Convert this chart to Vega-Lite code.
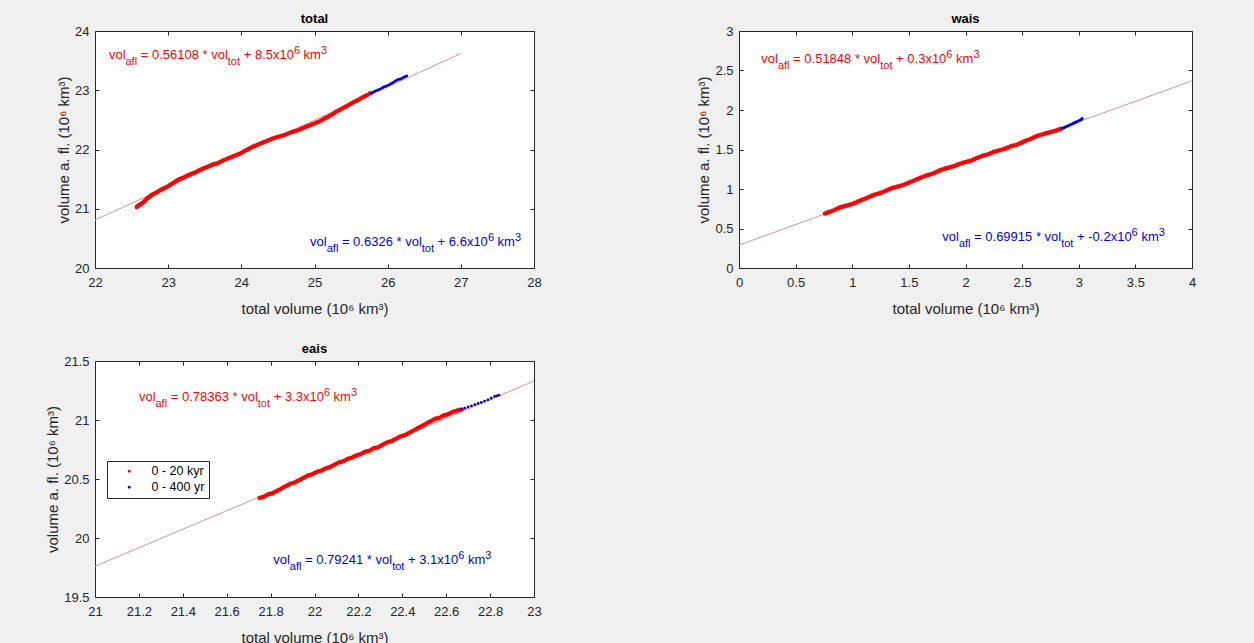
{
"$schema": "https://vega.github.io/schema/vega-lite/v6.json",
"background": "#f0f0f0",
"padding": {"left": 44, "top": 12, "right": 64, "bottom": 10},
"config": {
 "font": "Liberation Sans",
 "view": {"stroke": "#262626", "fill": "white", "strokeWidth": 1},
 "axis": {"grid": false, "domain": false, "tickSize": -4, "tickColor": "#262626", "labelColor": "#262626", "labelFontSize": 13, "labelFont": "Liberation Sans", "titleFont": "Liberation Sans", "titleFontSize": 15, "titleFontWeight": "normal", "titleColor": "#262626", "labelFlush": false, "labelOverlap": false, "format": "~g"},
 "axisX": {"labelPadding": 12, "titlePadding": 12},
 "axisY": {"labelPadding": 10, "titlePadding": 3.5},
 "title": {"fontSize": 13, "fontWeight": "bold", "font": "Liberation Sans", "color": "#000000", "offset": -1},
 "text": {"font": "Liberation Sans"}
},
"datasets": {
 "fit": [
  {"p": "total", "x": 22, "y": 20.81}, {"p": "total", "x": 27, "y": 23.62},
  {"p": "wais", "x": 0, "y": 0.29}, {"p": "wais", "x": 4, "y": 2.37},
  {"p": "eais", "x": 21, "y": 19.76}, {"p": "eais", "x": 23, "y": 21.33}
 ],
 "eq": [
  {"p": "total", "s": "0 - 20 kyr", "x": 22.19, "y": 23.52, "t3": "= 0.56108 * vol", "t5": "+ 8.5x10"},
  {"p": "total", "s": "0 - 400 yr", "x": 24.94, "y": 20.37, "t3": "= 0.6326 * vol", "t5": "+ 6.6x10"},
  {"p": "wais", "s": "0 - 20 kyr", "x": 0.197, "y": 2.597, "t3": "= 0.51848 * vol", "t5": "+ 0.3x10"},
  {"p": "wais", "s": "0 - 400 yr", "x": 1.795, "y": 0.338, "t3": "= 0.69915 * vol", "t5": "+ -0.2x10"},
  {"p": "eais", "s": "0 - 20 kyr", "x": 21.2, "y": 21.157, "t3": "= 0.78363 * vol", "t5": "+ 3.3x10"},
  {"p": "eais", "s": "0 - 400 yr", "x": 21.812, "y": 19.778, "t3": "= 0.79241 * vol", "t5": "+ 3.1x10"}
 ],
 "pts": [
  {"p":"total","s":"0 - 20 kyr","x":22.57,"y":21.03},{"p":"total","s":"0 - 20 kyr","x":22.585,"y":21.045},{"p":"total","s":"0 - 20 kyr","x":22.60,"y":21.06},{"p":"total","s":"0 - 20 kyr","x":22.62,"y":21.075},{"p":"total","s":"0 - 20 kyr","x":22.64,"y":21.09},{"p":"total","s":"0 - 20 kyr","x":22.66,"y":21.11},{"p":"total","s":"0 - 20 kyr","x":22.68,"y":21.13},{"p":"total","s":"0 - 20 kyr","x":22.70,"y":21.155},{"p":"total","s":"0 - 20 kyr","x":22.72,"y":21.18},{"p":"total","s":"0 - 20 kyr","x":22.74,"y":21.20},
  {"p":"total","s":"0 - 20 kyr","x":22.76,"y":21.22},{"p":"total","s":"0 - 20 kyr","x":22.78,"y":21.235},{"p":"total","s":"0 - 20 kyr","x":22.80,"y":21.25},{"p":"total","s":"0 - 20 kyr","x":22.825,"y":21.265},{"p":"total","s":"0 - 20 kyr","x":22.85,"y":21.28},{"p":"total","s":"0 - 20 kyr","x":22.875,"y":21.30},{"p":"total","s":"0 - 20 kyr","x":22.90,"y":21.32},{"p":"total","s":"0 - 20 kyr","x":22.925,"y":21.335},{"p":"total","s":"0 - 20 kyr","x":22.95,"y":21.35},{"p":"total","s":"0 - 20 kyr","x":22.975,"y":21.365},
  {"p":"total","s":"0 - 20 kyr","x":23.00,"y":21.38},{"p":"total","s":"0 - 20 kyr","x":23.025,"y":21.40},{"p":"total","s":"0 - 20 kyr","x":23.05,"y":21.42},{"p":"total","s":"0 - 20 kyr","x":23.075,"y":21.44},{"p":"total","s":"0 - 20 kyr","x":23.10,"y":21.46},{"p":"total","s":"0 - 20 kyr","x":23.125,"y":21.48},{"p":"total","s":"0 - 20 kyr","x":23.15,"y":21.50},{"p":"total","s":"0 - 20 kyr","x":23.175,"y":21.51},{"p":"total","s":"0 - 20 kyr","x":23.20,"y":21.52},{"p":"total","s":"0 - 20 kyr","x":23.23,"y":21.54},
  {"p":"total","s":"0 - 20 kyr","x":23.26,"y":21.56},{"p":"total","s":"0 - 20 kyr","x":23.29,"y":21.575},{"p":"total","s":"0 - 20 kyr","x":23.32,"y":21.59},{"p":"total","s":"0 - 20 kyr","x":23.35,"y":21.605},{"p":"total","s":"0 - 20 kyr","x":23.38,"y":21.62},{"p":"total","s":"0 - 20 kyr","x":23.41,"y":21.64},{"p":"total","s":"0 - 20 kyr","x":23.44,"y":21.66},{"p":"total","s":"0 - 20 kyr","x":23.47,"y":21.675},{"p":"total","s":"0 - 20 kyr","x":23.50,"y":21.69},{"p":"total","s":"0 - 20 kyr","x":23.53,"y":21.705},
  {"p":"total","s":"0 - 20 kyr","x":23.56,"y":21.72},{"p":"total","s":"0 - 20 kyr","x":23.59,"y":21.735},{"p":"total","s":"0 - 20 kyr","x":23.62,"y":21.75},{"p":"total","s":"0 - 20 kyr","x":23.65,"y":21.76},{"p":"total","s":"0 - 20 kyr","x":23.68,"y":21.77},{"p":"total","s":"0 - 20 kyr","x":23.71,"y":21.79},{"p":"total","s":"0 - 20 kyr","x":23.74,"y":21.81},{"p":"total","s":"0 - 20 kyr","x":23.77,"y":21.825},{"p":"total","s":"0 - 20 kyr","x":23.80,"y":21.84},{"p":"total","s":"0 - 20 kyr","x":23.83,"y":21.855},
  {"p":"total","s":"0 - 20 kyr","x":23.86,"y":21.87},{"p":"total","s":"0 - 20 kyr","x":23.89,"y":21.885},{"p":"total","s":"0 - 20 kyr","x":23.92,"y":21.90},{"p":"total","s":"0 - 20 kyr","x":23.95,"y":21.915},{"p":"total","s":"0 - 20 kyr","x":23.98,"y":21.93},{"p":"total","s":"0 - 20 kyr","x":24.01,"y":21.95},{"p":"total","s":"0 - 20 kyr","x":24.04,"y":21.97},{"p":"total","s":"0 - 20 kyr","x":24.07,"y":21.99},{"p":"total","s":"0 - 20 kyr","x":24.10,"y":22.01},{"p":"total","s":"0 - 20 kyr","x":24.13,"y":22.03},
  {"p":"total","s":"0 - 20 kyr","x":24.16,"y":22.05},{"p":"total","s":"0 - 20 kyr","x":24.19,"y":22.065},{"p":"total","s":"0 - 20 kyr","x":24.22,"y":22.08},{"p":"total","s":"0 - 20 kyr","x":24.25,"y":22.095},{"p":"total","s":"0 - 20 kyr","x":24.28,"y":22.11},{"p":"total","s":"0 - 20 kyr","x":24.31,"y":22.125},{"p":"total","s":"0 - 20 kyr","x":24.34,"y":22.14},{"p":"total","s":"0 - 20 kyr","x":24.37,"y":22.155},{"p":"total","s":"0 - 20 kyr","x":24.40,"y":22.17},{"p":"total","s":"0 - 20 kyr","x":24.43,"y":22.185},
  {"p":"total","s":"0 - 20 kyr","x":24.46,"y":22.20},{"p":"total","s":"0 - 20 kyr","x":24.49,"y":22.21},{"p":"total","s":"0 - 20 kyr","x":24.52,"y":22.22},{"p":"total","s":"0 - 20 kyr","x":24.55,"y":22.23},{"p":"total","s":"0 - 20 kyr","x":24.58,"y":22.24},{"p":"total","s":"0 - 20 kyr","x":24.61,"y":22.255},{"p":"total","s":"0 - 20 kyr","x":24.64,"y":22.27},{"p":"total","s":"0 - 20 kyr","x":24.67,"y":22.285},{"p":"total","s":"0 - 20 kyr","x":24.70,"y":22.30},{"p":"total","s":"0 - 20 kyr","x":24.73,"y":22.31},
  {"p":"total","s":"0 - 20 kyr","x":24.76,"y":22.32},{"p":"total","s":"0 - 20 kyr","x":24.79,"y":22.335},{"p":"total","s":"0 - 20 kyr","x":24.82,"y":22.35},{"p":"total","s":"0 - 20 kyr","x":24.85,"y":22.365},{"p":"total","s":"0 - 20 kyr","x":24.88,"y":22.38},{"p":"total","s":"0 - 20 kyr","x":24.91,"y":22.395},{"p":"total","s":"0 - 20 kyr","x":24.94,"y":22.41},{"p":"total","s":"0 - 20 kyr","x":24.97,"y":22.425},{"p":"total","s":"0 - 20 kyr","x":25.00,"y":22.44},{"p":"total","s":"0 - 20 kyr","x":25.03,"y":22.455},
  {"p":"total","s":"0 - 20 kyr","x":25.06,"y":22.47},{"p":"total","s":"0 - 20 kyr","x":25.09,"y":22.49},{"p":"total","s":"0 - 20 kyr","x":25.12,"y":22.51},{"p":"total","s":"0 - 20 kyr","x":25.15,"y":22.53},{"p":"total","s":"0 - 20 kyr","x":25.18,"y":22.55},{"p":"total","s":"0 - 20 kyr","x":25.21,"y":22.57},{"p":"total","s":"0 - 20 kyr","x":25.24,"y":22.59},{"p":"total","s":"0 - 20 kyr","x":25.27,"y":22.615},{"p":"total","s":"0 - 20 kyr","x":25.30,"y":22.64},{"p":"total","s":"0 - 20 kyr","x":25.33,"y":22.66},
  {"p":"total","s":"0 - 20 kyr","x":25.36,"y":22.68},{"p":"total","s":"0 - 20 kyr","x":25.39,"y":22.70},{"p":"total","s":"0 - 20 kyr","x":25.42,"y":22.72},{"p":"total","s":"0 - 20 kyr","x":25.45,"y":22.74},{"p":"total","s":"0 - 20 kyr","x":25.48,"y":22.76},{"p":"total","s":"0 - 20 kyr","x":25.51,"y":22.78},{"p":"total","s":"0 - 20 kyr","x":25.54,"y":22.80},{"p":"total","s":"0 - 20 kyr","x":25.57,"y":22.82},{"p":"total","s":"0 - 20 kyr","x":25.60,"y":22.84},{"p":"total","s":"0 - 20 kyr","x":25.63,"y":22.86},
  {"p":"total","s":"0 - 20 kyr","x":25.66,"y":22.88},{"p":"total","s":"0 - 20 kyr","x":25.69,"y":22.90},{"p":"total","s":"0 - 20 kyr","x":25.72,"y":22.92},{"p":"total","s":"0 - 20 kyr","x":25.76,"y":22.95},
  {"p":"total","s":"0 - 400 yr","x":25.78,"y":22.95},{"p":"total","s":"0 - 400 yr","x":25.80,"y":22.965},{"p":"total","s":"0 - 400 yr","x":25.82,"y":22.98},{"p":"total","s":"0 - 400 yr","x":25.84,"y":22.99},{"p":"total","s":"0 - 400 yr","x":25.86,"y":23.00},{"p":"total","s":"0 - 400 yr","x":25.88,"y":23.01},{"p":"total","s":"0 - 400 yr","x":25.90,"y":23.02},{"p":"total","s":"0 - 400 yr","x":25.92,"y":23.035},{"p":"total","s":"0 - 400 yr","x":25.94,"y":23.05},{"p":"total","s":"0 - 400 yr","x":25.96,"y":23.06},
  {"p":"total","s":"0 - 400 yr","x":25.98,"y":23.07},{"p":"total","s":"0 - 400 yr","x":26.00,"y":23.08},{"p":"total","s":"0 - 400 yr","x":26.02,"y":23.09},{"p":"total","s":"0 - 400 yr","x":26.04,"y":23.105},{"p":"total","s":"0 - 400 yr","x":26.06,"y":23.12},{"p":"total","s":"0 - 400 yr","x":26.08,"y":23.135},{"p":"total","s":"0 - 400 yr","x":26.10,"y":23.15},{"p":"total","s":"0 - 400 yr","x":26.12,"y":23.165},{"p":"total","s":"0 - 400 yr","x":26.14,"y":23.18},{"p":"total","s":"0 - 400 yr","x":26.16,"y":23.185},
  {"p":"total","s":"0 - 400 yr","x":26.18,"y":23.19},{"p":"total","s":"0 - 400 yr","x":26.20,"y":23.205},{"p":"total","s":"0 - 400 yr","x":26.22,"y":23.22},{"p":"total","s":"0 - 400 yr","x":26.24,"y":23.23},{"p":"total","s":"0 - 400 yr","x":26.26,"y":23.24},
  {"p":"wais","s":"0 - 20 kyr","x":0.76,"y":0.69},{"p":"wais","s":"0 - 20 kyr","x":0.78,"y":0.70},{"p":"wais","s":"0 - 20 kyr","x":0.80,"y":0.71},{"p":"wais","s":"0 - 20 kyr","x":0.825,"y":0.725},{"p":"wais","s":"0 - 20 kyr","x":0.85,"y":0.74},{"p":"wais","s":"0 - 20 kyr","x":0.875,"y":0.755},{"p":"wais","s":"0 - 20 kyr","x":0.90,"y":0.77},{"p":"wais","s":"0 - 20 kyr","x":0.925,"y":0.78},{"p":"wais","s":"0 - 20 kyr","x":0.95,"y":0.79},{"p":"wais","s":"0 - 20 kyr","x":0.975,"y":0.80},
  {"p":"wais","s":"0 - 20 kyr","x":1.00,"y":0.81},{"p":"wais","s":"0 - 20 kyr","x":1.025,"y":0.825},{"p":"wais","s":"0 - 20 kyr","x":1.05,"y":0.84},{"p":"wais","s":"0 - 20 kyr","x":1.075,"y":0.855},{"p":"wais","s":"0 - 20 kyr","x":1.10,"y":0.87},{"p":"wais","s":"0 - 20 kyr","x":1.125,"y":0.885},{"p":"wais","s":"0 - 20 kyr","x":1.15,"y":0.90},{"p":"wais","s":"0 - 20 kyr","x":1.175,"y":0.915},{"p":"wais","s":"0 - 20 kyr","x":1.20,"y":0.93},{"p":"wais","s":"0 - 20 kyr","x":1.225,"y":0.94},
  {"p":"wais","s":"0 - 20 kyr","x":1.25,"y":0.95},{"p":"wais","s":"0 - 20 kyr","x":1.275,"y":0.965},{"p":"wais","s":"0 - 20 kyr","x":1.30,"y":0.98},{"p":"wais","s":"0 - 20 kyr","x":1.325,"y":0.995},{"p":"wais","s":"0 - 20 kyr","x":1.35,"y":1.01},{"p":"wais","s":"0 - 20 kyr","x":1.375,"y":1.02},{"p":"wais","s":"0 - 20 kyr","x":1.40,"y":1.03},{"p":"wais","s":"0 - 20 kyr","x":1.425,"y":1.04},{"p":"wais","s":"0 - 20 kyr","x":1.45,"y":1.05},{"p":"wais","s":"0 - 20 kyr","x":1.475,"y":1.065},
  {"p":"wais","s":"0 - 20 kyr","x":1.50,"y":1.08},{"p":"wais","s":"0 - 20 kyr","x":1.525,"y":1.095},{"p":"wais","s":"0 - 20 kyr","x":1.55,"y":1.11},{"p":"wais","s":"0 - 20 kyr","x":1.575,"y":1.125},{"p":"wais","s":"0 - 20 kyr","x":1.60,"y":1.14},{"p":"wais","s":"0 - 20 kyr","x":1.625,"y":1.155},{"p":"wais","s":"0 - 20 kyr","x":1.65,"y":1.17},{"p":"wais","s":"0 - 20 kyr","x":1.675,"y":1.18},{"p":"wais","s":"0 - 20 kyr","x":1.70,"y":1.19},{"p":"wais","s":"0 - 20 kyr","x":1.725,"y":1.205},
  {"p":"wais","s":"0 - 20 kyr","x":1.75,"y":1.22},{"p":"wais","s":"0 - 20 kyr","x":1.775,"y":1.235},{"p":"wais","s":"0 - 20 kyr","x":1.80,"y":1.25},{"p":"wais","s":"0 - 20 kyr","x":1.825,"y":1.26},{"p":"wais","s":"0 - 20 kyr","x":1.85,"y":1.27},{"p":"wais","s":"0 - 20 kyr","x":1.875,"y":1.28},{"p":"wais","s":"0 - 20 kyr","x":1.90,"y":1.29},{"p":"wais","s":"0 - 20 kyr","x":1.925,"y":1.305},{"p":"wais","s":"0 - 20 kyr","x":1.95,"y":1.32},{"p":"wais","s":"0 - 20 kyr","x":1.975,"y":1.33},
  {"p":"wais","s":"0 - 20 kyr","x":2.00,"y":1.34},{"p":"wais","s":"0 - 20 kyr","x":2.025,"y":1.35},{"p":"wais","s":"0 - 20 kyr","x":2.05,"y":1.36},{"p":"wais","s":"0 - 20 kyr","x":2.075,"y":1.375},{"p":"wais","s":"0 - 20 kyr","x":2.10,"y":1.39},{"p":"wais","s":"0 - 20 kyr","x":2.125,"y":1.405},{"p":"wais","s":"0 - 20 kyr","x":2.15,"y":1.42},{"p":"wais","s":"0 - 20 kyr","x":2.175,"y":1.43},{"p":"wais","s":"0 - 20 kyr","x":2.20,"y":1.44},{"p":"wais","s":"0 - 20 kyr","x":2.225,"y":1.455},
  {"p":"wais","s":"0 - 20 kyr","x":2.25,"y":1.47},{"p":"wais","s":"0 - 20 kyr","x":2.275,"y":1.48},{"p":"wais","s":"0 - 20 kyr","x":2.30,"y":1.49},{"p":"wais","s":"0 - 20 kyr","x":2.325,"y":1.50},{"p":"wais","s":"0 - 20 kyr","x":2.35,"y":1.51},{"p":"wais","s":"0 - 20 kyr","x":2.375,"y":1.525},{"p":"wais","s":"0 - 20 kyr","x":2.40,"y":1.54},{"p":"wais","s":"0 - 20 kyr","x":2.425,"y":1.55},{"p":"wais","s":"0 - 20 kyr","x":2.45,"y":1.56},{"p":"wais","s":"0 - 20 kyr","x":2.475,"y":1.575},
  {"p":"wais","s":"0 - 20 kyr","x":2.50,"y":1.59},{"p":"wais","s":"0 - 20 kyr","x":2.525,"y":1.605},{"p":"wais","s":"0 - 20 kyr","x":2.55,"y":1.62},{"p":"wais","s":"0 - 20 kyr","x":2.575,"y":1.635},{"p":"wais","s":"0 - 20 kyr","x":2.60,"y":1.65},{"p":"wais","s":"0 - 20 kyr","x":2.625,"y":1.665},{"p":"wais","s":"0 - 20 kyr","x":2.65,"y":1.68},{"p":"wais","s":"0 - 20 kyr","x":2.675,"y":1.69},{"p":"wais","s":"0 - 20 kyr","x":2.70,"y":1.70},{"p":"wais","s":"0 - 20 kyr","x":2.725,"y":1.71},
  {"p":"wais","s":"0 - 20 kyr","x":2.75,"y":1.72},{"p":"wais","s":"0 - 20 kyr","x":2.775,"y":1.73},{"p":"wais","s":"0 - 20 kyr","x":2.80,"y":1.74},{"p":"wais","s":"0 - 20 kyr","x":2.82,"y":1.75},{"p":"wais","s":"0 - 20 kyr","x":2.84,"y":1.76},
  {"p":"wais","s":"0 - 400 yr","x":2.86,"y":1.77},{"p":"wais","s":"0 - 400 yr","x":2.875,"y":1.78},{"p":"wais","s":"0 - 400 yr","x":2.89,"y":1.79},{"p":"wais","s":"0 - 400 yr","x":2.905,"y":1.80},{"p":"wais","s":"0 - 400 yr","x":2.92,"y":1.81},{"p":"wais","s":"0 - 400 yr","x":2.935,"y":1.82},{"p":"wais","s":"0 - 400 yr","x":2.95,"y":1.83},{"p":"wais","s":"0 - 400 yr","x":2.965,"y":1.84},{"p":"wais","s":"0 - 400 yr","x":2.98,"y":1.85},{"p":"wais","s":"0 - 400 yr","x":2.995,"y":1.86},
  {"p":"wais","s":"0 - 400 yr","x":3.01,"y":1.87},{"p":"wais","s":"0 - 400 yr","x":3.02,"y":1.88},{"p":"wais","s":"0 - 400 yr","x":3.03,"y":1.89},
  {"p":"eais","s":"0 - 20 kyr","x":21.75,"y":20.34},{"p":"eais","s":"0 - 20 kyr","x":21.76,"y":20.345},{"p":"eais","s":"0 - 20 kyr","x":21.77,"y":20.35},{"p":"eais","s":"0 - 20 kyr","x":21.78,"y":20.36},{"p":"eais","s":"0 - 20 kyr","x":21.79,"y":20.37},{"p":"eais","s":"0 - 20 kyr","x":21.80,"y":20.375},{"p":"eais","s":"0 - 20 kyr","x":21.81,"y":20.38},{"p":"eais","s":"0 - 20 kyr","x":21.82,"y":20.39},{"p":"eais","s":"0 - 20 kyr","x":21.83,"y":20.40},{"p":"eais","s":"0 - 20 kyr","x":21.84,"y":20.41},
  {"p":"eais","s":"0 - 20 kyr","x":21.85,"y":20.42},{"p":"eais","s":"0 - 20 kyr","x":21.86,"y":20.43},{"p":"eais","s":"0 - 20 kyr","x":21.87,"y":20.44},{"p":"eais","s":"0 - 20 kyr","x":21.88,"y":20.45},{"p":"eais","s":"0 - 20 kyr","x":21.89,"y":20.46},{"p":"eais","s":"0 - 20 kyr","x":21.90,"y":20.465},{"p":"eais","s":"0 - 20 kyr","x":21.91,"y":20.47},{"p":"eais","s":"0 - 20 kyr","x":21.92,"y":20.48},{"p":"eais","s":"0 - 20 kyr","x":21.93,"y":20.49},{"p":"eais","s":"0 - 20 kyr","x":21.94,"y":20.50},
  {"p":"eais","s":"0 - 20 kyr","x":21.95,"y":20.51},{"p":"eais","s":"0 - 20 kyr","x":21.96,"y":20.52},{"p":"eais","s":"0 - 20 kyr","x":21.97,"y":20.53},{"p":"eais","s":"0 - 20 kyr","x":21.98,"y":20.535},{"p":"eais","s":"0 - 20 kyr","x":21.99,"y":20.54},{"p":"eais","s":"0 - 20 kyr","x":22.00,"y":20.55},{"p":"eais","s":"0 - 20 kyr","x":22.01,"y":20.56},{"p":"eais","s":"0 - 20 kyr","x":22.02,"y":20.565},{"p":"eais","s":"0 - 20 kyr","x":22.03,"y":20.57},{"p":"eais","s":"0 - 20 kyr","x":22.04,"y":20.58},
  {"p":"eais","s":"0 - 20 kyr","x":22.05,"y":20.59},{"p":"eais","s":"0 - 20 kyr","x":22.06,"y":20.595},{"p":"eais","s":"0 - 20 kyr","x":22.07,"y":20.60},{"p":"eais","s":"0 - 20 kyr","x":22.08,"y":20.61},{"p":"eais","s":"0 - 20 kyr","x":22.09,"y":20.62},{"p":"eais","s":"0 - 20 kyr","x":22.10,"y":20.63},{"p":"eais","s":"0 - 20 kyr","x":22.11,"y":20.64},{"p":"eais","s":"0 - 20 kyr","x":22.12,"y":20.645},{"p":"eais","s":"0 - 20 kyr","x":22.13,"y":20.65},{"p":"eais","s":"0 - 20 kyr","x":22.14,"y":20.66},
  {"p":"eais","s":"0 - 20 kyr","x":22.15,"y":20.67},{"p":"eais","s":"0 - 20 kyr","x":22.16,"y":20.675},{"p":"eais","s":"0 - 20 kyr","x":22.17,"y":20.68},{"p":"eais","s":"0 - 20 kyr","x":22.18,"y":20.69},{"p":"eais","s":"0 - 20 kyr","x":22.19,"y":20.70},{"p":"eais","s":"0 - 20 kyr","x":22.20,"y":20.705},{"p":"eais","s":"0 - 20 kyr","x":22.21,"y":20.71},{"p":"eais","s":"0 - 20 kyr","x":22.22,"y":20.72},{"p":"eais","s":"0 - 20 kyr","x":22.23,"y":20.73},{"p":"eais","s":"0 - 20 kyr","x":22.24,"y":20.735},
  {"p":"eais","s":"0 - 20 kyr","x":22.25,"y":20.74},{"p":"eais","s":"0 - 20 kyr","x":22.26,"y":20.75},{"p":"eais","s":"0 - 20 kyr","x":22.27,"y":20.76},{"p":"eais","s":"0 - 20 kyr","x":22.28,"y":20.765},{"p":"eais","s":"0 - 20 kyr","x":22.29,"y":20.77},{"p":"eais","s":"0 - 20 kyr","x":22.30,"y":20.78},{"p":"eais","s":"0 - 20 kyr","x":22.31,"y":20.79},{"p":"eais","s":"0 - 20 kyr","x":22.32,"y":20.80},{"p":"eais","s":"0 - 20 kyr","x":22.33,"y":20.81},{"p":"eais","s":"0 - 20 kyr","x":22.34,"y":20.815},
  {"p":"eais","s":"0 - 20 kyr","x":22.35,"y":20.82},{"p":"eais","s":"0 - 20 kyr","x":22.36,"y":20.83},{"p":"eais","s":"0 - 20 kyr","x":22.37,"y":20.84},{"p":"eais","s":"0 - 20 kyr","x":22.38,"y":20.85},{"p":"eais","s":"0 - 20 kyr","x":22.39,"y":20.86},{"p":"eais","s":"0 - 20 kyr","x":22.40,"y":20.865},{"p":"eais","s":"0 - 20 kyr","x":22.41,"y":20.87},{"p":"eais","s":"0 - 20 kyr","x":22.42,"y":20.88},{"p":"eais","s":"0 - 20 kyr","x":22.43,"y":20.89},{"p":"eais","s":"0 - 20 kyr","x":22.44,"y":20.90},
  {"p":"eais","s":"0 - 20 kyr","x":22.45,"y":20.91},{"p":"eais","s":"0 - 20 kyr","x":22.46,"y":20.92},{"p":"eais","s":"0 - 20 kyr","x":22.47,"y":20.93},{"p":"eais","s":"0 - 20 kyr","x":22.48,"y":20.94},{"p":"eais","s":"0 - 20 kyr","x":22.49,"y":20.95},{"p":"eais","s":"0 - 20 kyr","x":22.50,"y":20.96},{"p":"eais","s":"0 - 20 kyr","x":22.51,"y":20.97},{"p":"eais","s":"0 - 20 kyr","x":22.52,"y":20.98},{"p":"eais","s":"0 - 20 kyr","x":22.53,"y":20.99},{"p":"eais","s":"0 - 20 kyr","x":22.54,"y":21.00},
  {"p":"eais","s":"0 - 20 kyr","x":22.55,"y":21.01},{"p":"eais","s":"0 - 20 kyr","x":22.56,"y":21.015},{"p":"eais","s":"0 - 20 kyr","x":22.57,"y":21.02},{"p":"eais","s":"0 - 20 kyr","x":22.58,"y":21.03},{"p":"eais","s":"0 - 20 kyr","x":22.59,"y":21.04},{"p":"eais","s":"0 - 20 kyr","x":22.60,"y":21.045},{"p":"eais","s":"0 - 20 kyr","x":22.61,"y":21.05},{"p":"eais","s":"0 - 20 kyr","x":22.62,"y":21.06},{"p":"eais","s":"0 - 20 kyr","x":22.63,"y":21.07},{"p":"eais","s":"0 - 20 kyr","x":22.64,"y":21.075},
  {"p":"eais","s":"0 - 20 kyr","x":22.65,"y":21.08},{"p":"eais","s":"0 - 20 kyr","x":22.66,"y":21.085},{"p":"eais","s":"0 - 20 kyr","x":22.67,"y":21.09},
  {"p":"eais","s":"0 - 400 yr","x":22.67,"y":21.09},{"p":"eais","s":"0 - 400 yr","x":22.685,"y":21.10},{"p":"eais","s":"0 - 400 yr","x":22.70,"y":21.11},{"p":"eais","s":"0 - 400 yr","x":22.715,"y":21.12},{"p":"eais","s":"0 - 400 yr","x":22.73,"y":21.13},{"p":"eais","s":"0 - 400 yr","x":22.745,"y":21.14},{"p":"eais","s":"0 - 400 yr","x":22.76,"y":21.15},{"p":"eais","s":"0 - 400 yr","x":22.775,"y":21.16},{"p":"eais","s":"0 - 400 yr","x":22.79,"y":21.17},{"p":"eais","s":"0 - 400 yr","x":22.805,"y":21.185},
  {"p":"eais","s":"0 - 400 yr","x":22.82,"y":21.20},{"p":"eais","s":"0 - 400 yr","x":22.83,"y":21.205},{"p":"eais","s":"0 - 400 yr","x":22.84,"y":21.21}
 ]
},
"columns": 2,
"bounds": "flush",
"spacing": {"row": 93, "column": 205},
"resolve": {"scale": {"color": "independent"}, "legend": {"color": "independent"}},
"concat": [
 {
  "title": "total", "width": 439, "height": 237,
  "layer": [
   {"data": {"name": "fit"}, "transform": [{"filter": "datum.p == 'total'"}],
    "mark": {"type": "line", "color": "#e38f8f", "strokeWidth": 1},
    "encoding": {
     "x": {"field": "x", "type": "quantitative", "scale": {"domain": [22, 28], "nice": false, "zero": false}, "axis": {"orient": "bottom", "values": [22, 23, 24, 25, 26, 27, 28], "title": "total volume (10⁶ km³)"}},
     "y": {"field": "y", "type": "quantitative", "scale": {"domain": [20, 24], "nice": false, "zero": false}, "axis": {"orient": "left", "values": [20, 21, 22, 23, 24], "title": "volume a. fl. (10⁶ km³)"}}}},
   {"data": {"name": "pts"}, "transform": [{"filter": "datum.p == 'total' && datum.s == '0 - 20 kyr'"}],
    "mark": {"type": "circle", "size": 20, "opacity": 1},
    "encoding": {
     "x": {"field": "x", "type": "quantitative", "scale": {"domain": [22, 28], "nice": false, "zero": false}, "axis": {"orient": "top", "values": [22, 23, 24, 25, 26, 27, 28], "labels": false, "title": null}},
     "y": {"field": "y", "type": "quantitative", "scale": {"domain": [20, 24], "nice": false, "zero": false}, "axis": {"orient": "right", "values": [20, 21, 22, 23, 24], "labels": false, "title": null}},
     "color": {"field": "s", "type": "nominal", "scale": {"domain": ["0 - 20 kyr", "0 - 400 yr"], "range": ["#ff0000", "#0000dd"]}, "legend": null}}},
   {"data": {"name": "pts"}, "transform": [{"filter": "datum.p == 'total' && datum.s == '0 - 400 yr'"}],
    "mark": {"type": "circle", "size": 8, "opacity": 1},
    "encoding": {
     "x": {"field": "x", "type": "quantitative", "scale": {"domain": [22, 28], "nice": false, "zero": false}, "axis": null},
     "y": {"field": "y", "type": "quantitative", "scale": {"domain": [20, 24], "nice": false, "zero": false}, "axis": null},
     "color": {"field": "s", "type": "nominal", "scale": {"domain": ["0 - 20 kyr", "0 - 400 yr"], "range": ["#ff0000", "#0000dd"]}, "legend": null}}},
   {"data": {"name": "eq"}, "transform": [{"filter": "datum.p == 'total'"}],
    "encoding": {
     "x": {"field": "x", "type": "quantitative", "scale": {"domain": [22, 28], "nice": false, "zero": false}, "axis": null},
     "y": {"field": "y", "type": "quantitative", "scale": {"domain": [20, 24], "nice": false, "zero": false}, "axis": null},
     "color": {"field": "s", "type": "nominal", "scale": {"domain": ["0 - 20 kyr", "0 - 400 yr"], "range": ["#ff0000", "#0000dd"]}, "legend": null}},
    "layer": [
     {"mark": {"type": "text", "align": "left", "baseline": "alphabetic", "fontSize": 13, "dx": 0}, "encoding": {"text": {"value": "vol"}}},
     {"mark": {"type": "text", "align": "left", "baseline": "alphabetic", "fontSize": 11, "dx": 16.6, "dy": 6}, "encoding": {"text": {"value": "afl"}}},
     {"mark": {"type": "text", "align": "left", "baseline": "alphabetic", "fontSize": 13, "dx": 31.8}, "encoding": {"text": {"field": "t3"}}},
     {"transform": [{"filter": "datum.s == '0 - 20 kyr'"}], "layer": [
      {"mark": {"type": "text", "align": "left", "baseline": "alphabetic", "fontSize": 11, "dx": 118.9, "dy": 6}, "encoding": {"text": {"value": "tot"}}},
      {"mark": {"type": "text", "align": "left", "baseline": "alphabetic", "fontSize": 13, "dx": 134.8}, "encoding": {"text": {"field": "t5"}}},
      {"mark": {"type": "text", "align": "left", "baseline": "alphabetic", "fontSize": 11, "dx": 185.0, "dy": -5}, "encoding": {"text": {"value": "6"}}},
      {"mark": {"type": "text", "align": "left", "baseline": "alphabetic", "fontSize": 13, "dx": 194.7}, "encoding": {"text": {"value": "km"}}},
      {"mark": {"type": "text", "align": "left", "baseline": "alphabetic", "fontSize": 11, "dx": 212.1, "dy": -5}, "encoding": {"text": {"value": "3"}}}
     ]},
     {"transform": [{"filter": "datum.s == '0 - 400 yr'"}], "layer": [
      {"mark": {"type": "text", "align": "left", "baseline": "alphabetic", "fontSize": 11, "dx": 111.7, "dy": 6}, "encoding": {"text": {"value": "tot"}}},
      {"mark": {"type": "text", "align": "left", "baseline": "alphabetic", "fontSize": 13, "dx": 127.5}, "encoding": {"text": {"field": "t5"}}},
      {"mark": {"type": "text", "align": "left", "baseline": "alphabetic", "fontSize": 11, "dx": 177.8, "dy": -5}, "encoding": {"text": {"value": "6"}}},
      {"mark": {"type": "text", "align": "left", "baseline": "alphabetic", "fontSize": 13, "dx": 187.5}, "encoding": {"text": {"value": "km"}}},
      {"mark": {"type": "text", "align": "left", "baseline": "alphabetic", "fontSize": 11, "dx": 204.8, "dy": -5}, "encoding": {"text": {"value": "3"}}}
     ]}
    ]}
  ]
 },
 {
  "title": "wais", "width": 453, "height": 237,
  "layer": [
   {"data": {"name": "fit"}, "transform": [{"filter": "datum.p == 'wais'"}],
    "mark": {"type": "line", "color": "#e38f8f", "strokeWidth": 1},
    "encoding": {
     "x": {"field": "x", "type": "quantitative", "scale": {"domain": [0, 4], "nice": false}, "axis": {"orient": "bottom", "values": [0, 0.5, 1, 1.5, 2, 2.5, 3, 3.5, 4], "title": "total volume (10⁶ km³)"}},
     "y": {"field": "y", "type": "quantitative", "scale": {"domain": [0, 3], "nice": false}, "axis": {"orient": "left", "values": [0, 0.5, 1, 1.5, 2, 2.5, 3], "title": "volume a. fl. (10⁶ km³)"}}}},
   {"data": {"name": "pts"}, "transform": [{"filter": "datum.p == 'wais' && datum.s == '0 - 20 kyr'"}],
    "mark": {"type": "circle", "size": 22, "opacity": 1},
    "encoding": {
     "x": {"field": "x", "type": "quantitative", "scale": {"domain": [0, 4], "nice": false}, "axis": {"orient": "top", "values": [0, 0.5, 1, 1.5, 2, 2.5, 3, 3.5, 4], "labels": false, "title": null}},
     "y": {"field": "y", "type": "quantitative", "scale": {"domain": [0, 3], "nice": false}, "axis": {"orient": "right", "values": [0, 0.5, 1, 1.5, 2, 2.5, 3], "labels": false, "title": null}},
     "color": {"field": "s", "type": "nominal", "scale": {"domain": ["0 - 20 kyr", "0 - 400 yr"], "range": ["#ff0000", "#0000dd"]}, "legend": null}}},
   {"data": {"name": "pts"}, "transform": [{"filter": "datum.p == 'wais' && datum.s == '0 - 400 yr'"}],
    "mark": {"type": "circle", "size": 10, "opacity": 1},
    "encoding": {
     "x": {"field": "x", "type": "quantitative", "scale": {"domain": [0, 4], "nice": false}, "axis": null},
     "y": {"field": "y", "type": "quantitative", "scale": {"domain": [0, 3], "nice": false}, "axis": null},
     "color": {"field": "s", "type": "nominal", "scale": {"domain": ["0 - 20 kyr", "0 - 400 yr"], "range": ["#ff0000", "#0000dd"]}, "legend": null}}},
   {"data": {"name": "eq"}, "transform": [{"filter": "datum.p == 'wais'"}],
    "encoding": {
     "x": {"field": "x", "type": "quantitative", "scale": {"domain": [0, 4], "nice": false}, "axis": null},
     "y": {"field": "y", "type": "quantitative", "scale": {"domain": [0, 3], "nice": false}, "axis": null},
     "color": {"field": "s", "type": "nominal", "scale": {"domain": ["0 - 20 kyr", "0 - 400 yr"], "range": ["#ff0000", "#0000dd"]}, "legend": null}},
    "layer": [
     {"mark": {"type": "text", "align": "left", "baseline": "alphabetic", "fontSize": 13, "dx": 0}, "encoding": {"text": {"value": "vol"}}},
     {"mark": {"type": "text", "align": "left", "baseline": "alphabetic", "fontSize": 11, "dx": 16.6, "dy": 6}, "encoding": {"text": {"value": "afl"}}},
     {"mark": {"type": "text", "align": "left", "baseline": "alphabetic", "fontSize": 13, "dx": 31.8}, "encoding": {"text": {"field": "t3"}}},
     {"mark": {"type": "text", "align": "left", "baseline": "alphabetic", "fontSize": 11, "dx": 118.9, "dy": 6}, "encoding": {"text": {"value": "tot"}}},
     {"mark": {"type": "text", "align": "left", "baseline": "alphabetic", "fontSize": 13, "dx": 134.8}, "encoding": {"text": {"field": "t5"}}},
     {"transform": [{"filter": "datum.s == '0 - 20 kyr'"}], "layer": [
      {"mark": {"type": "text", "align": "left", "baseline": "alphabetic", "fontSize": 11, "dx": 185.0, "dy": -5}, "encoding": {"text": {"value": "6"}}},
      {"mark": {"type": "text", "align": "left", "baseline": "alphabetic", "fontSize": 13, "dx": 194.7}, "encoding": {"text": {"value": "km"}}},
      {"mark": {"type": "text", "align": "left", "baseline": "alphabetic", "fontSize": 11, "dx": 212.1, "dy": -5}, "encoding": {"text": {"value": "3"}}}
     ]},
     {"transform": [{"filter": "datum.s == '0 - 400 yr'"}], "layer": [
      {"mark": {"type": "text", "align": "left", "baseline": "alphabetic", "fontSize": 11, "dx": 189.3, "dy": -5}, "encoding": {"text": {"value": "6"}}},
      {"mark": {"type": "text", "align": "left", "baseline": "alphabetic", "fontSize": 13, "dx": 199.1}, "encoding": {"text": {"value": "km"}}},
      {"mark": {"type": "text", "align": "left", "baseline": "alphabetic", "fontSize": 11, "dx": 216.4, "dy": -5}, "encoding": {"text": {"value": "3"}}}
     ]}
    ]}
  ]
 },
 {
  "title": "eais", "width": 439, "height": 236,
  "layer": [
   {"data": {"name": "fit"}, "transform": [{"filter": "datum.p == 'eais'"}],
    "mark": {"type": "line", "color": "#e38f8f", "strokeWidth": 1},
    "encoding": {
     "x": {"field": "x", "type": "quantitative", "scale": {"domain": [21, 23], "nice": false, "zero": false}, "axis": {"orient": "bottom", "values": [21, 21.2, 21.4, 21.6, 21.8, 22, 22.2, 22.4, 22.6, 22.8, 23], "title": "total volume (10⁶ km³)"}},
     "y": {"field": "y", "type": "quantitative", "scale": {"domain": [19.5, 21.5], "nice": false, "zero": false}, "axis": {"orient": "left", "values": [19.5, 20, 20.5, 21, 21.5], "title": "volume a. fl. (10⁶ km³)"}}}},
   {"data": {"name": "pts"}, "transform": [{"filter": "datum.p == 'eais' && datum.s == '0 - 20 kyr'"}],
    "mark": {"type": "circle", "size": 20, "opacity": 1},
    "encoding": {
     "x": {"field": "x", "type": "quantitative", "scale": {"domain": [21, 23], "nice": false, "zero": false}, "axis": {"orient": "top", "values": [21, 21.2, 21.4, 21.6, 21.8, 22, 22.2, 22.4, 22.6, 22.8, 23], "labels": false, "title": null}},
     "y": {"field": "y", "type": "quantitative", "scale": {"domain": [19.5, 21.5], "nice": false, "zero": false}, "axis": {"orient": "right", "values": [19.5, 20, 20.5, 21, 21.5], "labels": false, "title": null}},
     "color": {"field": "s", "type": "nominal", "scale": {"domain": ["0 - 20 kyr", "0 - 400 yr"], "range": ["#ff0000", "#0000dd"]},
      "legend": {"title": null, "orient": "none", "legendX": 12, "legendY": 100, "direction": "vertical", "symbolType": "circle", "symbolSize": 8, "labelFont": "Liberation Sans", "labelFontSize": 12.5, "labelColor": "#000000", "strokeColor": "#262626", "fillColor": "#ffffff", "padding": 4, "rowPadding": 3, "symbolOffset": 12, "labelOffset": 16, "cornerRadius": 0}}}},
   {"data": {"name": "pts"}, "transform": [{"filter": "datum.p == 'eais' && datum.s == '0 - 400 yr'"}],
    "mark": {"type": "circle", "size": 8, "opacity": 1},
    "encoding": {
     "x": {"field": "x", "type": "quantitative", "scale": {"domain": [21, 23], "nice": false, "zero": false}, "axis": null},
     "y": {"field": "y", "type": "quantitative", "scale": {"domain": [19.5, 21.5], "nice": false, "zero": false}, "axis": null},
     "color": {"field": "s", "type": "nominal", "scale": {"domain": ["0 - 20 kyr", "0 - 400 yr"], "range": ["#ff0000", "#0000dd"]}, "legend": null}}},
   {"data": {"name": "eq"}, "transform": [{"filter": "datum.p == 'eais'"}],
    "encoding": {
     "x": {"field": "x", "type": "quantitative", "scale": {"domain": [21, 23], "nice": false, "zero": false}, "axis": null},
     "y": {"field": "y", "type": "quantitative", "scale": {"domain": [19.5, 21.5], "nice": false, "zero": false}, "axis": null},
     "color": {"field": "s", "type": "nominal", "scale": {"domain": ["0 - 20 kyr", "0 - 400 yr"], "range": ["#ff0000", "#0000dd"]}, "legend": null}},
    "layer": [
     {"mark": {"type": "text", "align": "left", "baseline": "alphabetic", "fontSize": 13, "dx": 0}, "encoding": {"text": {"value": "vol"}}},
     {"mark": {"type": "text", "align": "left", "baseline": "alphabetic", "fontSize": 11, "dx": 16.6, "dy": 6}, "encoding": {"text": {"value": "afl"}}},
     {"mark": {"type": "text", "align": "left", "baseline": "alphabetic", "fontSize": 13, "dx": 31.8}, "encoding": {"text": {"field": "t3"}}},
     {"mark": {"type": "text", "align": "left", "baseline": "alphabetic", "fontSize": 11, "dx": 118.9, "dy": 6}, "encoding": {"text": {"value": "tot"}}},
     {"mark": {"type": "text", "align": "left", "baseline": "alphabetic", "fontSize": 13, "dx": 134.8}, "encoding": {"text": {"field": "t5"}}},
     {"mark": {"type": "text", "align": "left", "baseline": "alphabetic", "fontSize": 11, "dx": 185.0, "dy": -5}, "encoding": {"text": {"value": "6"}}},
     {"mark": {"type": "text", "align": "left", "baseline": "alphabetic", "fontSize": 13, "dx": 194.7}, "encoding": {"text": {"value": "km"}}},
     {"mark": {"type": "text", "align": "left", "baseline": "alphabetic", "fontSize": 11, "dx": 212.1, "dy": -5}, "encoding": {"text": {"value": "3"}}}
    ]}
  ]
 }
]
}
